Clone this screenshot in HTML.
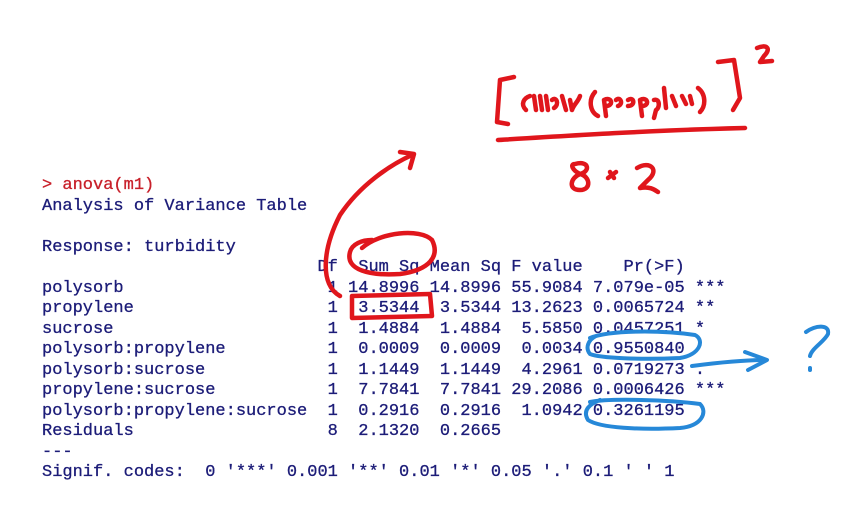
<!DOCTYPE html>
<html><head><meta charset="utf-8"><style>
html,body{margin:0;padding:0;background:#fff;width:860px;height:530px;overflow:hidden;position:relative}
pre{position:absolute;left:42px;top:176px;margin:0;font-family:"Liberation Mono",monospace;font-size:17px;line-height:20.5px;color:#1c1c78;-webkit-text-stroke:0.3px #1c1c78}
.r{color:#c8202a;-webkit-text-stroke:0.3px #c8202a}
svg{position:absolute;left:0;top:0}
</style></head><body>
<pre><span class="r">&gt; anova(m1)</span>
Analysis of Variance Table

Response: turbidity
                           Df  Sum Sq Mean Sq F value    Pr(&gt;F)    
polysorb                    1 14.8996 14.8996 55.9084 7.079e-05 ***
propylene                   1  3.5344  3.5344 13.2623 0.0065724 ** 
sucrose                     1  1.4884  1.4884  5.5850 0.0457251 *  
polysorb:propylene          1  0.0009  0.0009  0.0034 0.9550840    
polysorb:sucrose            1  1.1449  1.1449  4.2961 0.0719273 .  
propylene:sucrose           1  7.7841  7.7841 29.2086 0.0006426 ***
polysorb:propylene:sucrose  1  0.2916  0.2916  1.0942 0.3261195    
Residuals                   8  2.1320  0.2665                      
---
Signif. codes:  0 '***' 0.001 '**' 0.01 '*' 0.05 '.' 0.1 ' ' 1</pre>
<svg width="860" height="530" viewBox="0 0 860 530" fill="none" stroke-linecap="round" stroke-linejoin="round">
<g stroke="#e0161c" stroke-width="4.5">
<path d="M362 248 C 380 232, 420 228, 432 240 C 440 256, 430 270, 400 274 C 370 276, 345 270, 350 252 C 352 244, 362 240, 372 240"/>
<path d="M352 296 L 430 294 L 432 316 L 352 318 Z"/>
<path d="M340 296 C 320 285, 322 250, 340 215 C 360 185, 390 165, 412 155"/>
<path d="M400 152 L 414 154 L 410 168"/>
<path d="M514 77 L 500 80 L 497 122 L 508 124"/>
<path d="M718 62 L 734 60 L 740 98 L 733 110"/>
<path d="M757 48 C 766 44, 772 48, 764 56 L 760 62 L 772 61"/>
<path d="M498 140 C 580 135, 660 130, 745 128"/>
<path d="M575 164 C 590 160, 590 172, 580 174 C 570 178, 568 190, 580 190 C 592 190, 590 176, 580 174 C 572 170, 570 164, 575 164"/>
<path d="M610 172 L 614 178 M608 178 L 616 172"/>
<path d="M637 168 C 650 160, 660 170, 648 180 L 640 188 C 650 186, 655 190, 658 192"/>
<path d="M526 110 C 520 104, 524 98, 530 96 M534 96 L 536 110 M540 96 L 542 110 M546 96 L 548 110 M552 100 C 556 96, 560 104, 554 108 M562 96 L 566 110 M570 100 L 572 110 C 574 104, 578 102, 580 96"/>
<path d="M595 92 C 588 100, 590 112, 598 116 M604 100 L 606 116 M604 100 C 612 96, 614 106, 606 106 M616 100 C 620 96, 624 104, 618 106 M628 100 C 634 96, 636 106, 628 106 M640 100 L 642 116 M640 100 C 648 96, 650 106, 642 106 M654 100 C 660 98, 660 108, 656 110 L 654 118 M664 88 L 666 108 M672 96 L 676 106 M682 96 L 686 104 M690 96 L 692 104 M698 88 C 706 94, 706 106, 700 112"/>
</g>
<g stroke="#2688d8" stroke-width="4">
<path d="M590 338 C 610 330, 660 330, 695 335 C 705 340, 700 355, 680 358 C 640 360, 600 358, 590 354 C 585 348, 588 340, 596 336"/>
<path d="M692 366 C 715 363, 740 360, 765 360"/>
<path d="M745 352 L 767 360 L 748 370"/>
<path d="M806 332 C 815 325, 830 324, 828 334 C 824 342, 812 348, 810 356"/>
<path d="M810 368 L 810 370"/>
<path d="M590 402 C 610 398, 670 400, 700 404 C 708 412, 702 426, 680 428 C 640 430, 600 428, 588 420 C 582 410, 590 404, 600 400"/>
</g>
</svg>
</body></html>
